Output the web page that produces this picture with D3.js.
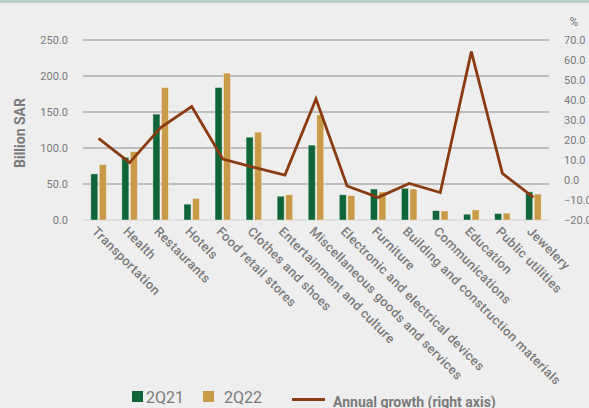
<!DOCTYPE html>
<html>
<head>
<meta charset="utf-8">
<script src="https://cdn.jsdelivr.net/npm/d3@7"></script>
<style>
  html, body { margin: 0; padding: 0; background: #eeeeee; }
  svg { display: block; font-family: Roboto, "Noto Sans", sans-serif; }
</style>
</head>
<body>
<svg id="chart" width="589" height="408"></svg>
<script>
// Retail spending by sector (billion SAR) and annual growth (%)
const categories = [
  "Transportation", "Health", "Restaurants", "Hotels", "Food retail stores",
  "Clothes and shoes", "Entertainment and culture", "Miscellaneous goods and services",
  "Electronic and electrical devices", "Furniture", "Building and construction materials",
  "Communications", "Education", "Public utilities", "Jewelery"
];
const values2Q21 = [64, 87, 147, 22, 184, 115, 33, 104, 35, 43, 44, 13, 8, 9, 39];
const values2Q22 = [77, 95, 184, 30, 204, 122, 35, 146, 34, 39, 43, 12.5, 14, 9.5, 36];
const growth =     [20.8, 8.7, 26.2, 36.7, 10.5, 6.3, 2.5, 40.5, -3, -8.7, -1.7, -6.3, 64.2, 3.3, -8.7];
const leftTicks = [0, 50, 100, 150, 200, 250];
const rightTicks = [-20, -10, 0, 10, 20, 30, 40, 50, 60, 70];
const seriesNames = ["2Q21", "2Q22"];
const lineName = "Annual growth (right axis)";

const colors = { g21: "#0f6537", g22: "#c99b49", line: "#8a3b12", text: "#7a7a7a" };

const svg = d3.select("#chart");
const plot = { left: 83, right: 549, top: 40, bottom: 220 };

// top accent strip
svg.append("rect").attr("x", 0).attr("y", 0).attr("width", 589).attr("height", 3).attr("fill", "#b6d0c8");

const x = d3.scaleBand().domain(categories).range([plot.left, plot.right]).paddingInner(0).paddingOuter(0);
const yL = d3.scaleLinear().domain([0, 250]).range([plot.bottom, plot.top]);
const yR = d3.scaleLinear().domain([-20, 70]).range([plot.bottom, plot.top]);

// gridlines on the left-axis ticks
svg.append("g").selectAll("line").data(leftTicks).join("line")
  .attr("x1", plot.left).attr("x2", plot.right)
  .attr("y1", d => yL(d)).attr("y2", d => yL(d))
  .attr("stroke", d => d === 0 ? "#cfcfcf" : "#8c8c8c")
  .attr("stroke-width", 1.2);

// left axis
const leftAxis = svg.append("g").attr("transform", `translate(${plot.left},0)`)
  .call(d3.axisLeft(yL).tickValues(leftTicks).tickFormat(d3.format(".1f")).tickSize(0).tickPadding(15));
leftAxis.select(".domain").remove();
leftAxis.selectAll("text").attr("fill", colors.text).style("font-size", "11px").style("font-family", "Roboto");

// right axis
const rightAxis = svg.append("g").attr("transform", `translate(${plot.right},0)`)
  .call(d3.axisRight(yR).tickValues(rightTicks).tickFormat(d3.format(".1f")).tickSize(0).tickPadding(15));
rightAxis.select(".domain").remove();
rightAxis.selectAll("text").attr("fill", colors.text).style("font-size", "11px").style("font-family", "Roboto");

svg.append("text").attr("x", 574).attr("y", 26).attr("text-anchor", "middle")
  .attr("fill", colors.text).style("font-size", "12px").text("%");

// y-axis title
svg.append("text")
  .attr("transform", "translate(25,133) rotate(-90)")
  .attr("text-anchor", "middle").attr("fill", colors.text)
  .style("font-size", "14px").style("font-weight", "700").text("Billion SAR");

// bars
const barW = 7, gap = 1.5;
const bars = svg.append("g");
[values2Q21, values2Q22].forEach((vals, si) => {
  bars.selectAll(null).data(vals).join("rect")
    .attr("x", (d, i) => x(categories[i]) + x.bandwidth() / 2 + (si === 0 ? -barW - gap / 2 : gap / 2))
    .attr("y", d => yL(d))
    .attr("width", barW)
    .attr("height", d => yL(0) - yL(d))
    .attr("fill", si === 0 ? colors.g21 : colors.g22)
    .attr("stroke", "rgba(255,255,255,0.45)").attr("stroke-width", 0.8);
});

// growth line
const line = d3.line()
  .x((d, i) => x(categories[i]) + x.bandwidth() / 2)
  .y(d => yR(d));
svg.append("path").datum(growth)
  .attr("d", line).attr("fill", "none")
  .attr("stroke", colors.line).attr("stroke-width", 2.8).attr("stroke-linejoin", "miter");

// category labels, slanted
svg.append("g").selectAll("text").data(categories).join("text")
  .attr("transform", d => `translate(${x(d) + x.bandwidth() / 2 - 4},${plot.bottom + 9}) rotate(45)`)
  .attr("text-anchor", "start").attr("dy", "0.35em")
  .attr("fill", colors.text)
  .style("font-size", "12.8px").style("font-weight", "500").style("letter-spacing", "0.4px")
  .text(d => d);

// legend
const lg = svg.append("g");
lg.append("rect").attr("x", 132).attr("y", 391).attr("width", 11).attr("height", 11).attr("fill", colors.g21);
lg.append("text").attr("x", 146).attr("y", 402.5).attr("fill", colors.text).style("font-size", "16px").text(seriesNames[0]);
lg.append("rect").attr("x", 203).attr("y", 391).attr("width", 11).attr("height", 11).attr("fill", colors.g22);
lg.append("text").attr("x", 224).attr("y", 402.5).attr("fill", colors.text).style("font-size", "16px").text(seriesNames[1]);
lg.append("line").attr("x1", 292).attr("x2", 325).attr("y1", 399.5).attr("y2", 399.5)
  .attr("stroke", colors.line).attr("stroke-width", 2.8);
lg.append("text").attr("x", 333).attr("y", 407).attr("fill", colors.text)
  .style("font-size", "14px").style("font-weight", "700").text(lineName);
</script>
</body>
</html>
